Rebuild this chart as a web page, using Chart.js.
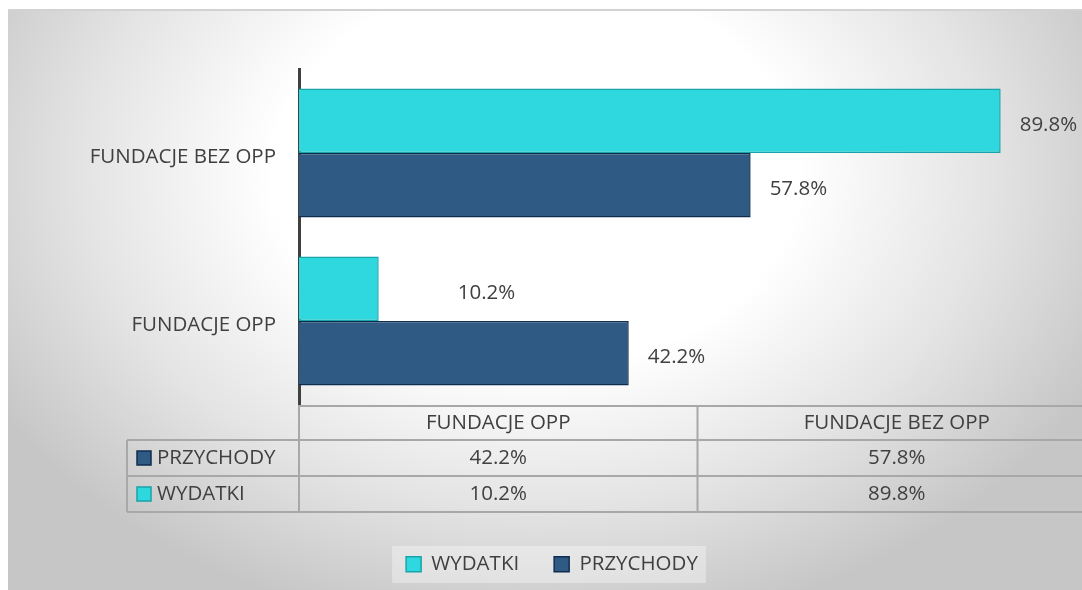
<!DOCTYPE html>
<html>
<head>
<meta charset="utf-8">
<script src="https://cdn.jsdelivr.net/npm/chart.js@4.4.1/dist/chart.umd.min.js"></script>
<style>
    html, body {
        margin: 0;
        padding: 0;
        width: 1082px;
        height: 590px;
        overflow: hidden;
        background: #ffffff;
    }
    #frame {
        position: absolute;
        left: 8px;
        top: 9px;
        width: 1100px;
        height: 579px;
        border-top: 2px solid #d2d2d2;
        background: radial-gradient(ellipse 57% 80% at 48% 28%, #ffffff 0%, #ffffff 42%, #e4e4e4 72%, #c6c6c6 100%);
    }
    canvas {
        display: block;
    }
</style>
</head>
<body>
<div id="frame">
    <canvas id="chart" width="1100" height="579"></canvas>
</div>

<script>
// categories in Excel order (first one sits at the bottom)
const categories = ["FUNDACJE OPP", "FUNDACJE BEZ OPP"]

const przychody = [42.2, 57.8]
const wydatki = [10.2, 89.8]

const series = [
    {name: "WYDATKI", data: wydatki, color: "#2ed8de", border: "#17a3aa"},
    {name: "PRZYCHODY", data: przychody, color: "#2e5a83", border: "#0f2d50"},
]

// data table rows, top to bottom
const tableRows = [
    {name: "PRZYCHODY", data: przychody, color: "#2e5a83", border: "#0f2d50"},
    {name: "WYDATKI", data: wydatki, color: "#2ed8de", border: "#17a3aa"},
]

const textColor = "#404040"
const fontFamily = "'Open Sans', sans-serif"
const fontSize = 20.5

// the 10.2% label was dragged to the right in the original
const labelNudge = {"WYDATKI:0": 60}

const fmt = (v) => v.toFixed(1) + "%"

const dataTable = {
    id: "dataTable",
    beforeDraw(chart) {
        // light box behind the legend
        const lg = chart.legend
        if (!lg || !lg.legendHitBoxes.length) return
        const boxes = lg.legendHitBoxes
        const first = boxes[0]
        const last = boxes[boxes.length - 1]
        const ctx = chart.ctx
        ctx.save()
        ctx.fillStyle = "rgba(255,255,255,0.35)"
        ctx.fillRect(first.left - 14, first.top - 8, last.left + last.width + 8 - (first.left - 14), 37)
        ctx.restore()
    },
    afterDraw(chart) {
        const ctx = chart.ctx
        const area = chart.chartArea
        const top = chart.scales.x.top
        const colW = area.width / categories.length
        const headH = 35
        const rowH = 36
        const rowLeft = 119
        const bottom = top + headH + rowH * tableRows.length

        ctx.save()
        ctx.strokeStyle = "#a8a8a8"
        ctx.lineWidth = 2
        ctx.beginPath()
        ctx.moveTo(area.left, top + 1)
        ctx.lineTo(area.right + 20, top + 1)
        for (let r = 0; r <= tableRows.length; r++) {
            const y = top + headH + r * rowH
            ctx.moveTo(rowLeft, y)
            ctx.lineTo(area.right + 20, y)
        }
        ctx.moveTo(rowLeft, top + headH)
        ctx.lineTo(rowLeft, bottom)
        for (let c = 0; c <= categories.length; c++) {
            const x = area.left + c * colW
            ctx.moveTo(x, top)
            ctx.lineTo(x, bottom)
        }
        ctx.stroke()

        ctx.fillStyle = textColor
        ctx.font = fontSize + "px " + fontFamily
        ctx.textBaseline = "middle"
        ctx.textAlign = "center"
        categories.forEach((cat, c) => {
            ctx.fillText(cat, area.left + (c + 0.5) * colW, top + headH / 2 + 1)
        })

        tableRows.forEach((row, r) => {
            const cy = top + headH + r * rowH + rowH / 2
            ctx.fillStyle = row.color
            ctx.fillRect(rowLeft + 10, cy - 7, 14, 14)
            ctx.strokeStyle = row.border
            ctx.lineWidth = 1.5
            ctx.strokeRect(rowLeft + 10, cy - 7, 14, 14)

            ctx.fillStyle = textColor
            ctx.textAlign = "left"
            ctx.fillText(row.name, rowLeft + 30, cy)
            ctx.textAlign = "center"
            row.data.forEach((v, c) => {
                ctx.fillText(fmt(v), area.left + (c + 0.5) * colW, cy)
            })
        })
        ctx.restore()
    },
    afterDatasetsDraw(chart) {
        const ctx = chart.ctx
        ctx.save()
        ctx.fillStyle = textColor
        ctx.font = fontSize + "px " + fontFamily
        ctx.textBaseline = "middle"
        ctx.textAlign = "left"
        chart.data.datasets.forEach((ds, i) => {
            chart.getDatasetMeta(i).data.forEach((bar, j) => {
                const nudge = labelNudge[ds.label + ":" + j] || 0
                ctx.fillText(fmt(ds.data[j]), bar.x + 19 + nudge, bar.y + 4)
            })
        })
        ctx.restore()
    }
}

new Chart(document.getElementById("chart"), {
    type: "bar",
    data: {
        labels: categories,
        datasets: series.map((s) => ({
            label: s.name,
            data: s.data,
            backgroundColor: s.color,
            borderColor: s.border,
            borderWidth: 1.5,
            categoryPercentage: 0.768,
            barPercentage: 1,
        })),
    },
    options: {
        indexAxis: "y",
        responsive: false,
        animation: false,
        layout: {
            padding: {top: 58, right: 12, bottom: 5.5, left: 0},
        },
        scales: {
            x: {
                min: 0,
                max: 102,
                position: "bottom",
                grid: {display: false, drawTicks: false},
                border: {display: false},
                ticks: {display: false},
                afterFit: (scale) => { scale.height = 114 },
            },
            y: {
                reverse: true,
                grid: {display: false, drawTicks: false},
                border: {display: true, color: "#404040", width: 3},
                ticks: {
                    color: textColor,
                    padding: 23,
                    labelOffset: 4,
                    font: {size: fontSize, family: fontFamily},
                },
                afterFit: (scale) => { scale.width = 291 },
            },
        },
        plugins: {
            tooltip: {enabled: false},
            legend: {
                position: "bottom",
                labels: {
                    color: textColor,
                    boxWidth: 15,
                    boxHeight: 15,
                    padding: 35,
                    font: {size: fontSize, family: fontFamily},
                },
            },
        },
    },
    plugins: [dataTable],
})
</script>
</body>
</html>
